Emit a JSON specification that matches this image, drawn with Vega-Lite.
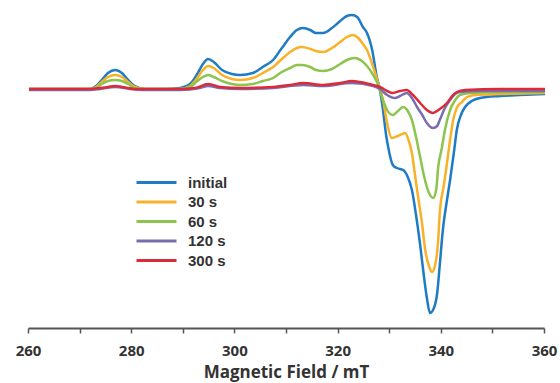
{
  "$schema": "https://vega.github.io/schema/vega-lite/v6.json",
  "width": 516,
  "height": 328,
  "autosize": {"type": "none"},
  "padding": {"left": 28, "top": 0, "right": 16, "bottom": 55},
  "background": "white",
  "config": {"view": {"stroke": null}},
  "data": {"values": [
    {"s":"initial","x":260.2,"y":0},{"s":"initial","x":266.2,"y":0},{"s":"initial","x":272.0,"y":0},{"s":"initial","x":273.2,"y":3},{"s":"initial","x":274.3,"y":9},{"s":"initial","x":275.5,"y":16},{"s":"initial","x":276.9,"y":19},{"s":"initial","x":278.2,"y":16},{"s":"initial","x":279.4,"y":9},{"s":"initial","x":280.7,"y":3},{"s":"initial","x":282.7,"y":0},{"s":"initial","x":286.6,"y":0},{"s":"initial","x":289.5,"y":1},{"s":"initial","x":291.4,"y":5},{"s":"initial","x":292.8,"y":15},{"s":"initial","x":293.9,"y":25},{"s":"initial","x":294.9,"y":30},{"s":"initial","x":296.0,"y":27},{"s":"initial","x":297.6,"y":19},{"s":"initial","x":299.5,"y":15},{"s":"initial","x":301.1,"y":14},{"s":"initial","x":303.6,"y":16},{"s":"initial","x":305.5,"y":22},{"s":"initial","x":307.5,"y":29},{"s":"initial","x":309.2,"y":41},{"s":"initial","x":310.8,"y":52},{"s":"initial","x":312.1,"y":59},{"s":"initial","x":313.3,"y":61},{"s":"initial","x":314.7,"y":59},{"s":"initial","x":315.8,"y":56},{"s":"initial","x":317.2,"y":56},{"s":"initial","x":318.9,"y":61},{"s":"initial","x":320.5,"y":68},{"s":"initial","x":321.8,"y":73},{"s":"initial","x":322.8,"y":74},{"s":"initial","x":323.8,"y":72},{"s":"initial","x":324.9,"y":62},{"s":"initial","x":325.7,"y":56},{"s":"initial","x":326.7,"y":39},{"s":"initial","x":327.6,"y":12},{"s":"initial","x":328.2,"y":-1},{"s":"initial","x":328.8,"y":-21},{"s":"initial","x":329.4,"y":-46},{"s":"initial","x":329.8,"y":-58},{"s":"initial","x":330.7,"y":-76},{"s":"initial","x":331.5,"y":-79},{"s":"initial","x":332.7,"y":-81},{"s":"initial","x":333.6,"y":-88},{"s":"initial","x":334.4,"y":-101},{"s":"initial","x":335.2,"y":-126},{"s":"initial","x":336.0,"y":-156},{"s":"initial","x":336.7,"y":-186},{"s":"initial","x":337.3,"y":-209},{"s":"initial","x":337.9,"y":-224},{"s":"initial","x":338.5,"y":-221},{"s":"initial","x":339.3,"y":-204},{"s":"initial","x":339.8,"y":-176},{"s":"initial","x":340.4,"y":-141},{"s":"initial","x":341.2,"y":-111},{"s":"initial","x":341.8,"y":-91},{"s":"initial","x":342.6,"y":-61},{"s":"initial","x":343.1,"y":-41},{"s":"initial","x":343.9,"y":-26},{"s":"initial","x":344.7,"y":-18},{"s":"initial","x":346.0,"y":-12},{"s":"initial","x":347.6,"y":-9},{"s":"initial","x":351.5,"y":-7},{"s":"initial","x":355.3,"y":-6},{"s":"initial","x":360.2,"y":-5},

    {"s":"30 s","x":260.2,"y":0},{"s":"30 s","x":272.0,"y":0},{"s":"30 s","x":273.2,"y":2},{"s":"30 s","x":274.3,"y":7},{"s":"30 s","x":275.5,"y":12},{"s":"30 s","x":276.9,"y":14},{"s":"30 s","x":278.2,"y":12},{"s":"30 s","x":279.4,"y":7},{"s":"30 s","x":280.7,"y":2},{"s":"30 s","x":282.7,"y":0},{"s":"30 s","x":289.5,"y":0},{"s":"30 s","x":291.4,"y":3},{"s":"30 s","x":292.8,"y":11},{"s":"30 s","x":293.9,"y":19},{"s":"30 s","x":294.9,"y":23},{"s":"30 s","x":296.0,"y":21},{"s":"30 s","x":297.6,"y":14},{"s":"30 s","x":299.5,"y":10},{"s":"30 s","x":301.1,"y":9},{"s":"30 s","x":303.6,"y":11},{"s":"30 s","x":305.5,"y":16},{"s":"30 s","x":307.5,"y":22},{"s":"30 s","x":309.2,"y":30},{"s":"30 s","x":310.8,"y":37},{"s":"30 s","x":312.1,"y":41},{"s":"30 s","x":313.1,"y":42},{"s":"30 s","x":314.7,"y":40},{"s":"30 s","x":315.8,"y":38},{"s":"30 s","x":317.2,"y":37},{"s":"30 s","x":318.9,"y":41},{"s":"30 s","x":320.5,"y":47},{"s":"30 s","x":321.8,"y":52},{"s":"30 s","x":323.0,"y":54},{"s":"30 s","x":324.0,"y":51},{"s":"30 s","x":324.9,"y":45},{"s":"30 s","x":325.7,"y":39},{"s":"30 s","x":326.7,"y":25},{"s":"30 s","x":327.8,"y":7},{"s":"30 s","x":328.8,"y":-11},{"s":"30 s","x":329.6,"y":-34},{"s":"30 s","x":330.5,"y":-49},{"s":"30 s","x":331.7,"y":-47},{"s":"30 s","x":333.1,"y":-44},{"s":"30 s","x":333.8,"y":-52},{"s":"30 s","x":334.4,"y":-64},{"s":"30 s","x":335.0,"y":-86},{"s":"30 s","x":335.6,"y":-108},{"s":"30 s","x":336.4,"y":-136},{"s":"30 s","x":336.9,"y":-158},{"s":"30 s","x":337.7,"y":-177},{"s":"30 s","x":338.3,"y":-183},{"s":"30 s","x":338.9,"y":-176},{"s":"30 s","x":339.5,"y":-151},{"s":"30 s","x":339.8,"y":-124},{"s":"30 s","x":340.6,"y":-96},{"s":"30 s","x":341.2,"y":-74},{"s":"30 s","x":341.8,"y":-51},{"s":"30 s","x":342.4,"y":-31},{"s":"30 s","x":343.1,"y":-19},{"s":"30 s","x":344.1,"y":-13},{"s":"30 s","x":345.1,"y":-8},{"s":"30 s","x":346.6,"y":-6},{"s":"30 s","x":351.5,"y":-5},{"s":"30 s","x":360.2,"y":-4},

    {"s":"60 s","x":260.2,"y":0},{"s":"60 s","x":272.0,"y":0},{"s":"60 s","x":273.2,"y":1},{"s":"60 s","x":274.3,"y":5},{"s":"60 s","x":275.5,"y":8},{"s":"60 s","x":276.9,"y":9},{"s":"60 s","x":278.2,"y":8},{"s":"60 s","x":279.4,"y":5},{"s":"60 s","x":280.7,"y":1},{"s":"60 s","x":282.7,"y":0},{"s":"60 s","x":289.5,"y":0},{"s":"60 s","x":291.4,"y":2},{"s":"60 s","x":292.8,"y":8},{"s":"60 s","x":293.9,"y":12},{"s":"60 s","x":294.9,"y":14},{"s":"60 s","x":296.0,"y":12},{"s":"60 s","x":297.6,"y":8},{"s":"60 s","x":299.5,"y":5},{"s":"60 s","x":301.1,"y":4},{"s":"60 s","x":303.6,"y":5},{"s":"60 s","x":305.5,"y":8},{"s":"60 s","x":307.5,"y":11},{"s":"60 s","x":309.2,"y":17},{"s":"60 s","x":310.8,"y":21},{"s":"60 s","x":312.1,"y":24},{"s":"60 s","x":313.1,"y":24},{"s":"60 s","x":314.7,"y":22},{"s":"60 s","x":315.8,"y":19},{"s":"60 s","x":317.2,"y":18},{"s":"60 s","x":318.9,"y":20},{"s":"60 s","x":320.5,"y":25},{"s":"60 s","x":321.8,"y":29},{"s":"60 s","x":323.4,"y":31},{"s":"60 s","x":324.7,"y":28},{"s":"60 s","x":325.7,"y":23},{"s":"60 s","x":326.9,"y":14},{"s":"60 s","x":327.8,"y":5},{"s":"60 s","x":328.8,"y":-11},{"s":"60 s","x":329.6,"y":-21},{"s":"60 s","x":330.7,"y":-26},{"s":"60 s","x":331.7,"y":-22},{"s":"60 s","x":332.7,"y":-18},{"s":"60 s","x":333.6,"y":-22},{"s":"60 s","x":334.4,"y":-31},{"s":"60 s","x":335.2,"y":-48},{"s":"60 s","x":336.0,"y":-68},{"s":"60 s","x":336.7,"y":-86},{"s":"60 s","x":337.3,"y":-98},{"s":"60 s","x":337.9,"y":-106},{"s":"60 s","x":338.5,"y":-109},{"s":"60 s","x":339.1,"y":-101},{"s":"60 s","x":339.5,"y":-78},{"s":"60 s","x":340.2,"y":-59},{"s":"60 s","x":340.8,"y":-41},{"s":"60 s","x":341.8,"y":-21},{"s":"60 s","x":342.8,"y":-11},{"s":"60 s","x":343.7,"y":-6},{"s":"60 s","x":345.7,"y":-4},{"s":"60 s","x":351.5,"y":-3},{"s":"60 s","x":360.2,"y":-3},

    {"s":"120 s","x":260.2,"y":-1},{"s":"120 s","x":272.0,"y":-1},{"s":"120 s","x":274.0,"y":0},{"s":"120 s","x":276.9,"y":2},{"s":"120 s","x":279.8,"y":0},{"s":"120 s","x":282.7,"y":-1},{"s":"120 s","x":289.5,"y":-1},{"s":"120 s","x":293.3,"y":1},{"s":"120 s","x":294.9,"y":3},{"s":"120 s","x":297.2,"y":1},{"s":"120 s","x":301.1,"y":0},{"s":"120 s","x":307.5,"y":1},{"s":"120 s","x":313.3,"y":4},{"s":"120 s","x":317.2,"y":3},{"s":"120 s","x":322.8,"y":6},{"s":"120 s","x":326.9,"y":3},{"s":"120 s","x":328.2,"y":0},{"s":"120 s","x":329.6,"y":-6},{"s":"120 s","x":331.1,"y":-9},{"s":"120 s","x":332.1,"y":-7},{"s":"120 s","x":333.4,"y":-4},{"s":"120 s","x":334.4,"y":-9},{"s":"120 s","x":335.4,"y":-18},{"s":"120 s","x":336.4,"y":-26},{"s":"120 s","x":337.3,"y":-34},{"s":"120 s","x":338.5,"y":-39},{"s":"120 s","x":339.3,"y":-37},{"s":"120 s","x":339.8,"y":-31},{"s":"120 s","x":340.8,"y":-19},{"s":"120 s","x":341.8,"y":-11},{"s":"120 s","x":342.8,"y":-5},{"s":"120 s","x":343.7,"y":-3},{"s":"120 s","x":347.6,"y":-2},{"s":"120 s","x":360.2,"y":-2},

    {"s":"300 s","x":260.2,"y":0},{"s":"300 s","x":272.0,"y":0},{"s":"300 s","x":274.0,"y":1},{"s":"300 s","x":275.5,"y":2},{"s":"300 s","x":276.9,"y":3},{"s":"300 s","x":278.2,"y":2},{"s":"300 s","x":280.7,"y":0},{"s":"300 s","x":289.5,"y":0},{"s":"300 s","x":292.4,"y":1},{"s":"300 s","x":294.9,"y":5},{"s":"300 s","x":297.2,"y":2},{"s":"300 s","x":301.1,"y":1},{"s":"300 s","x":307.5,"y":2},{"s":"300 s","x":310.8,"y":4},{"s":"300 s","x":313.3,"y":6},{"s":"300 s","x":317.2,"y":4},{"s":"300 s","x":320.5,"y":6},{"s":"300 s","x":322.8,"y":8},{"s":"300 s","x":325.3,"y":6},{"s":"300 s","x":326.9,"y":4},{"s":"300 s","x":328.2,"y":2},{"s":"300 s","x":329.6,"y":-2},{"s":"300 s","x":330.7,"y":-4},{"s":"300 s","x":332.1,"y":-2},{"s":"300 s","x":333.4,"y":-1},{"s":"300 s","x":334.6,"y":-6},{"s":"300 s","x":336.0,"y":-14},{"s":"300 s","x":337.3,"y":-21},{"s":"300 s","x":338.5,"y":-24},{"s":"300 s","x":339.8,"y":-20},{"s":"300 s","x":341.2,"y":-14},{"s":"300 s","x":342.2,"y":-7},{"s":"300 s","x":343.1,"y":-3},{"s":"300 s","x":344.7,"y":-1},{"s":"300 s","x":351.5,"y":0},{"s":"300 s","x":360.2,"y":0}
  ]},
  "mark": {"type": "line", "interpolate": "monotone", "strokeWidth": 2.5, "clip": false},
  "encoding": {
    "x": {
      "field": "x", "type": "quantitative",
      "scale": {"domain": [260, 360], "nice": false, "zero": false},
      "axis": {
        "title": "Magnetic Field / mT",
        "values": [260, 270, 280, 290, 300, 310, 320, 330, 340, 350, 360],
        "labelExpr": "datum.value % 20 === 0 ? datum.label : ''",
        "grid": false,
        "domainColor": "#555555", "domainWidth": 2,
        "tickColor": "#555555", "tickWidth": 1.5, "tickSize": 5,
        "encode": {"ticks": {"update": {"y2": {"value": -5}}}},
        "labelFont": "Open Sans", "labelFontSize": 15, "labelFontWeight": "bold", "labelColor": "#333333",
        "labelPadding": 10, "labelFlush": false,
        "titleFont": "Open Sans", "titleFontSize": 17, "titleFontWeight": "bold", "titleColor": "#333333",
        "titlePadding": 6
      }
    },
    "y": {"field": "y", "type": "quantitative", "scale": {"domain": [-239, 89], "nice": false, "zero": false}, "axis": null},
    "color": {
      "field": "s", "type": "nominal",
      "scale": {"domain": ["initial", "30 s", "60 s", "120 s", "300 s"], "range": ["#1f7bc4", "#f7b228", "#8dc44e", "#7a6cae", "#dc2a3a"]},
      "legend": {
        "title": null, "orient": "none", "legendX": 119, "legendY": 173,
        "symbolType": "M-2.5,0H2.5", "symbolSize": 256, "symbolStrokeWidth": 3,
        "labelFont": "Liberation Sans", "labelFontSize": 15, "labelFontWeight": "bold", "labelColor": "#333333",
        "labelOffset": 22, "rowPadding": 1.5, "padding": 0
      }
    }
  }
}
